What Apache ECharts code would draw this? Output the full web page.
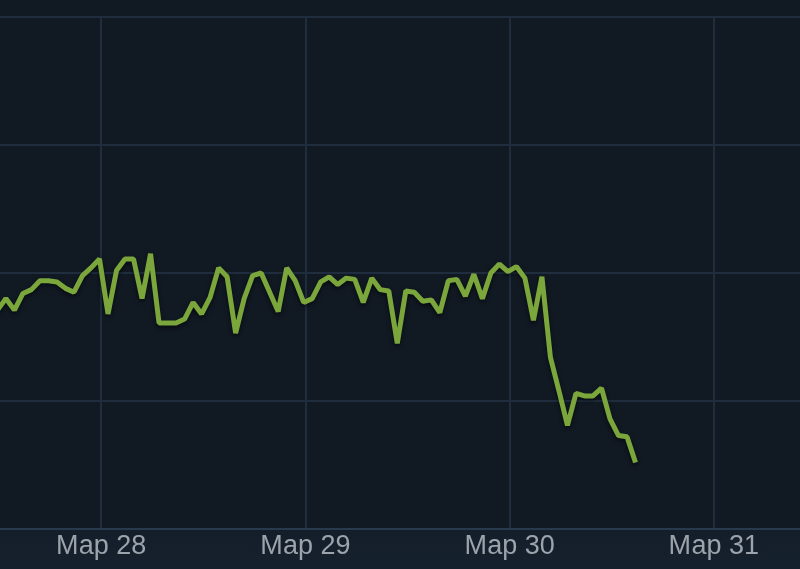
<!DOCTYPE html>
<html>
<head>
<meta charset="utf-8">
<script src="https://cdn.jsdelivr.net/npm/echarts@6/dist/echarts.min.js"></script>
<style>
  html, body { margin: 0; padding: 0; }
  body {
    width: 800px; height: 569px; overflow: hidden;
    background: linear-gradient(to bottom, #111923 0px, #111923 529px, #141e2a 529px, #16212e 569px);
  }
  #chart { width: 800px; height: 569px; }
</style>
</head>
<body>
<div id="chart"></div>
<script>
// Hours counted from 27 March 00:00; one sample per hour.
const firstHour = 11.8;
const dayLabelPrefix = 'Мар';
const firstDay = 27;
// Series values (gridlines at 0,10,20,30,40)
const values = [
  17.1, 18.0, 17.1, 18.4, 18.7, 19.4, 19.4, 19.3, 18.8, 18.5,
  19.8, 20.4, 21.1, 16.8, 20.2, 21.1, 21.1, 18.0, 21.5, 16.1,
  16.1, 16.1, 16.4, 17.7, 16.8, 18.1, 20.4, 19.7, 15.3, 18.0,
  19.8, 20.0, 18.5, 17.0, 20.4, 19.4, 17.7, 18.0, 19.3, 19.7,
  19.1, 19.6, 19.5, 17.7, 19.6, 18.7, 18.6, 14.5, 18.6, 18.5,
  17.8, 17.9, 16.9, 19.4, 19.5, 18.2, 19.9, 18.0, 20.0, 20.7,
  20.1, 20.5, 19.6, 16.3, 19.7, 13.4, 10.8, 8.1, 10.6, 10.4,
  10.4, 11.0, 8.6, 7.3, 7.2, 5.2
];
const points = values.map((v, i) => [firstHour + i, v]);

const chart = echarts.init(document.getElementById('chart'), null, { renderer: 'canvas' });
chart.setOption({
  backgroundColor: 'transparent',
  animation: false,
  grid: { left: -103, right: -118, top: 17, bottom: 40, containLabel: false, outerBoundsMode: 'none' },
  xAxis: {
    type: 'value',
    min: 0,
    max: 120,
    interval: 24,
    axisLine: { show: true, lineStyle: { color: '#283a4e', width: 2 } },
    axisTick: { show: false },
    splitLine: { show: true, lineStyle: { color: '#1f2d3e', width: 2 } },
    axisLabel: {
      color: '#9ba3ab',
      fontFamily: 'Liberation Sans, Arial, sans-serif',
      fontSize: 27,
      margin: 4,
      formatter: v => dayLabelPrefix + ' ' + (firstDay + v / 24)
    }
  },
  yAxis: {
    type: 'value',
    min: 0,
    max: 40,
    interval: 10,
    axisLine: { show: false },
    axisTick: { show: false },
    axisLabel: { show: false },
    splitLine: { show: true, lineStyle: { color: '#1f2d3e', width: 2 } }
  },
  series: [{
    type: 'line',
    data: points,
    showSymbol: false,
    symbol: 'none',
    lineStyle: {
      color: '#7aa63c',
      width: 5,
      shadowColor: 'rgba(0,0,0,0.6)',
      shadowBlur: 4,
      shadowOffsetY: 2
    }
  }]
});
</script>
</body>
</html>
